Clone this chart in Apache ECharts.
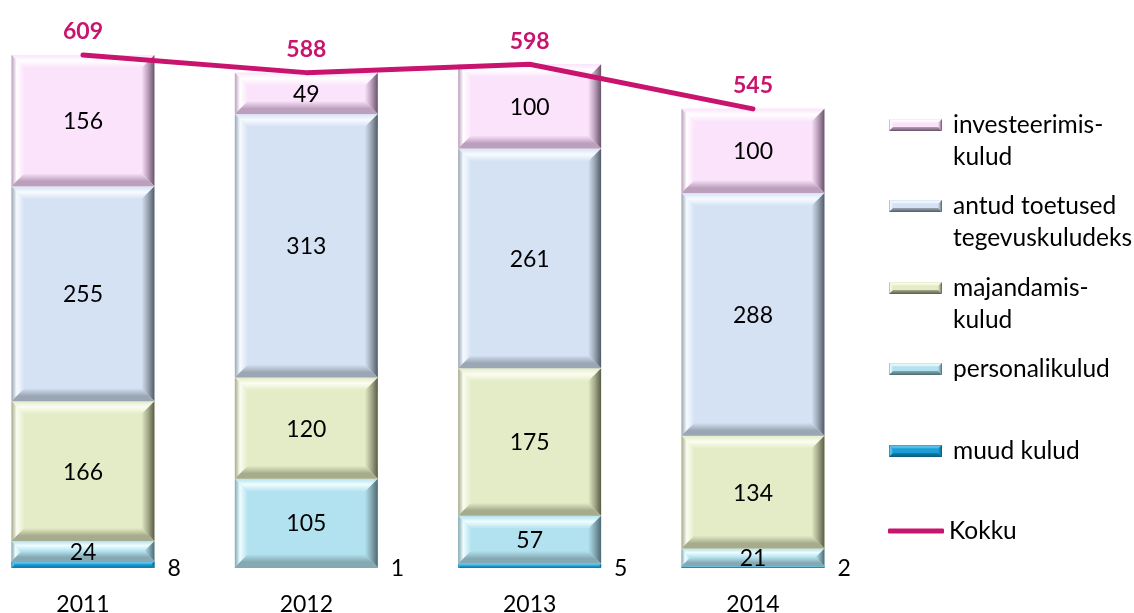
<!DOCTYPE html>
<html>
<head>
<meta charset="utf-8">
<script src="https://cdn.jsdelivr.net/npm/echarts@6/dist/echarts.min.js"></script>
<style>
  html, body { margin: 0; padding: 0; background: #ffffff; }
  #chart { width: 1134px; height: 613px; }
</style>
</head>
<body>
<div id="chart"></div>
<script>
// Spending by year, stacked by cost type, with the total as a line
const years = ['2011', '2012', '2013', '2014'];
const muudKulud = [8, 1, 5, 2];
const personalikulud = [24, 105, 57, 21];
const majandamiskulud = [166, 120, 175, 134];
const antudToetused = [255, 313, 261, 288];
const investeerimiskulud = [156, 49, 100, 100];
const kokku = [609, 588, 598, 545];

const FONT = 'Lato, "Open Sans", sans-serif';
const FS = 23;
const LEGEND_FS = 24.5;
const LINE_COLOR = '#c8146e';

// bevel palettes: face, highlight, edge mid tone, dark outer edge
const PAL = {
  muud:     { face: '#1b9fd6', hi: '#6cc8ee', mid: '#1180ae', dark: '#0a5a80' },
  personal: { face: '#b2e2ef', hi: '#effdff', mid: '#85a9b3', dark: '#4d6a73' },
  majand:   { face: '#e3ecc6', hi: '#fbfdf2', mid: '#a5ab8c', dark: '#585d45' },
  antud:    { face: '#d5e2f4', hi: '#f7fbff', mid: '#9ba6b4', dark: '#525c68' },
  invest:   { face: '#fbe3fb', hi: '#ffffff', mid: '#bc9fbc', dark: '#66546a' }
};

// stack layers bottom to top
const layers = [
  { key: 'muud',     name: 'muud kulud',            values: muudKulud,          outside: true },
  { key: 'personal', name: 'personalikulud',        values: personalikulud },
  { key: 'majand',   name: 'majandamis-\nkulud',    values: majandamiskulud },
  { key: 'antud',    name: 'antud toetused\ntegevuskuludeks', values: antudToetused },
  { key: 'invest',   name: 'investeerimis-\nkulud', values: investeerimiskulud }
];

// running bases for the stack
const bases = years.map(() => 0);
const layerData = layers.map(layer => {
  const rows = layer.values.map((v, i) => {
    const row = [i, bases[i], v, bases[i] + v];
    bases[i] += v;
    return row;
  });
  return rows;
});

function lin(x, y, x2, y2, stops) {
  return { type: 'linear', x: x, y: y, x2: x2, y2: y2, global: false,
    colorStops: stops.map(s => ({ offset: s[0], color: s[1] })) };
}

function bevelShapes(x, y, w, h, pal, maxB) {
  const b = Math.max(0, Math.min(maxB, h / 2, w / 2));
  const x1 = x + w, y1 = y + h;
  return [
    { type: 'rect', shape: { x: x, y: y, width: w, height: h }, style: { fill: pal.face } },
    { type: 'polygon', shape: { points: [[x, y], [x1, y], [x1 - b, y + b], [x + b, y + b]] },
      style: { fill: lin(0, 0, 0, 1, [[0, pal.face], [0.45, pal.hi], [1, pal.face]]) } },
    { type: 'polygon', shape: { points: [[x, y], [x + b, y + b], [x + b, y1 - b], [x, y1]] },
      style: { fill: lin(0, 0, 1, 0, [[0, pal.mid], [0.4, pal.hi], [1, pal.face]]) } },
    { type: 'polygon', shape: { points: [[x1, y], [x1, y1], [x1 - b, y1 - b], [x1 - b, y + b]] },
      style: { fill: lin(0, 0, 1, 0, [[0, pal.face], [0.5, pal.mid], [1, pal.dark]]) } },
    { type: 'polygon', shape: { points: [[x, y1], [x1, y1], [x1 - b, y1 - b], [x + b, y1 - b]] },
      style: { fill: lin(0, 0, 0, 1, [[0, pal.face], [0.6, pal.mid], [1, pal.mid]]) } }
  ];
}

function makeRenderer(layer) {
  const pal = PAL[layer.key];
  return function (params, api) {
    const cat = api.value(0), base = api.value(1), val = api.value(2);
    const pTop = api.coord([cat, base + val]);
    const pBot = api.coord([cat, base]);
    const bw = api.size([1, 0])[0] * 0.64;
    const x = pBot[0] - bw / 2;
    const y = pTop[1];
    const h = pBot[1] - pTop[1];
    const children = bevelShapes(x, y, bw, h, pal, 13);
    const font = FS + 'px ' + FONT;
    if (layer.outside) {
      children.push({ type: 'text', z2: 50, style: {
        text: String(val), x: x + bw + 13, y: pBot[1] + 1,
        align: 'left', verticalAlign: 'middle', font: font, fill: '#000000' } });
    } else {
      children.push({ type: 'text', z2: 50, style: {
        text: String(val), x: pBot[0], y: y + h / 2 + 1,
        align: 'center', verticalAlign: 'middle', font: font, fill: '#000000' } });
    }
    return { type: 'group', children: children };
  };
}

// small bevelled swatch for the legend
function bevelIcon(pal) {
  const W = 53, H = 12, b = 4;
  const c = document.createElement('canvas');
  c.width = W; c.height = H;
  const g = c.getContext('2d');
  g.fillStyle = pal.face; g.fillRect(0, 0, W, H);
  function poly(pts, grad) {
    g.beginPath(); g.moveTo(pts[0][0], pts[0][1]);
    for (let i = 1; i < pts.length; i++) g.lineTo(pts[i][0], pts[i][1]);
    g.closePath(); g.fillStyle = grad; g.fill();
  }
  let gr = g.createLinearGradient(0, 0, 0, b);
  gr.addColorStop(0, pal.face); gr.addColorStop(0.45, pal.hi); gr.addColorStop(1, pal.face);
  poly([[0, 0], [W, 0], [W - b, b], [b, b]], gr);
  gr = g.createLinearGradient(0, 0, b, 0);
  gr.addColorStop(0, pal.mid); gr.addColorStop(0.4, pal.hi); gr.addColorStop(1, pal.face);
  poly([[0, 0], [b, b], [b, H - b], [0, H]], gr);
  gr = g.createLinearGradient(W - b, 0, W, 0);
  gr.addColorStop(0, pal.face); gr.addColorStop(0.55, pal.mid); gr.addColorStop(1, pal.dark);
  poly([[W, 0], [W, H], [W - b, H - b], [W - b, b]], gr);
  gr = g.createLinearGradient(0, H - b, 0, H);
  gr.addColorStop(0, pal.mid); gr.addColorStop(1, pal.dark);
  poly([[0, H], [W, H], [W - b, H - b], [b, H - b]], gr);
  return 'image://' + c.toDataURL();
}

const series = layers.map((layer, li) => ({
  type: 'custom',
  name: layer.name,
  renderItem: makeRenderer(layer),
  encode: { x: 0, y: 3 },
  data: layerData[li],
  z: 2
}));

series.push({
  type: 'line',
  name: 'Kokku',
  data: kokku,
  symbol: 'circle',
  symbolSize: 1,
  showSymbol: true,
  itemStyle: { color: 'rgba(0,0,0,0)' },
  lineStyle: { color: LINE_COLOR, width: 5, cap: 'round', join: 'round' },
  label: { show: true, position: 'top', distance: 11, color: LINE_COLOR,
    fontWeight: 'bold', fontSize: FS, fontFamily: FONT },
  z: 10
});

// one legend block per entry so each can sit at its own height
const legendSpec = [
  { key: 'invest',   name: 'investeerimis-\nkulud',          cy: 125, lines: 2 },
  { key: 'antud',    name: 'antud toetused\ntegevuskuludeks', cy: 206, lines: 2 },
  { key: 'majand',   name: 'majandamis-\nkulud',             cy: 288, lines: 2 },
  { key: 'personal', name: 'personalikulud',                 cy: 369, lines: 1 },
  { key: 'muud',     name: 'muud kulud',                     cy: 451, lines: 1 }
];
const LH = 32;
const legends = legendSpec.map(s => ({
  data: [s.name],
  orient: 'vertical',
  left: 889,
  top: s.lines === 2 ? s.cy - LH * 1.5 : s.cy - LH / 2,
  padding: 0,
  selectedMode: false,
  itemWidth: 53,
  itemHeight: 12,
  icon: bevelIcon(PAL[s.key]),
  formatter: s.lines === 2 ? (n => '\n' + n) : (n => n),
  textStyle: { fontSize: LEGEND_FS, fontFamily: FONT, color: '#000000', lineHeight: LH, padding: [0, 0, 0, 6] }
}));
legends.push({
  data: ['Kokku'],
  left: 888,
  top: 531 - LH / 2,
  padding: 0,
  selectedMode: false,
  icon: 'roundRect',
  itemWidth: 56,
  itemHeight: 5,
  itemStyle: { color: LINE_COLOR },
  textStyle: { fontSize: LEGEND_FS, fontFamily: FONT, color: '#000000', lineHeight: LH }
});

const chart = echarts.init(document.getElementById('chart'), null, { renderer: 'canvas' });
chart.setOption({
  animation: false,
  backgroundColor: '#ffffff',
  grid: { left: -28.67, width: 893.3, top: 20.4, height: 547.6, outerBoundsMode: 'none', containLabel: false },
  xAxis: {
    type: 'category',
    data: years,
    axisLine: { show: false },
    axisTick: { show: false },
    axisLabel: { margin: 25, fontSize: FS, fontFamily: FONT, color: '#000000' }
  },
  yAxis: {
    type: 'value', min: 0, max: 650, show: false, splitLine: { show: false }
  },
  legend: legends,
  series: series
});
</script>
</body>
</html>
